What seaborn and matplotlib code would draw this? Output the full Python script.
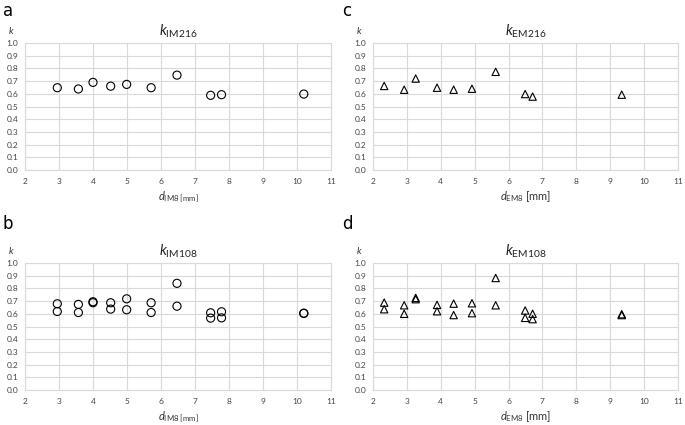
import matplotlib
matplotlib.use("Agg")
import matplotlib.pyplot as plt
import seaborn as sns
import pandas as pd

sns.set_theme(style="white")
plt.rcParams['font.family'] = ['Lato', 'DejaVu Sans']
plt.rcParams['mathtext.fontset'] = 'custom'
plt.rcParams['mathtext.rm'] = 'Lato'
plt.rcParams['mathtext.it'] = 'Lato:italic'

# Panel a: k_IM216 vs d_IM8
d_im8 = [2.95, 3.57, 4.0, 4.52, 4.99, 5.71, 6.47, 7.46, 7.78, 10.2]
k_im216 = [0.648, 0.638, 0.69, 0.66, 0.674, 0.648, 0.747, 0.588, 0.593, 0.598]

# Panel b: k_IM108 (two series per d)
k_im108_a = [0.679, 0.674, 0.695, 0.687, 0.718, 0.687, 0.84, 0.608, 0.616, 0.603]
k_im108_b = [0.618, 0.61, 0.687, 0.637, 0.632, 0.61, 0.66, 0.566, 0.568, 0.605]

# Panel c: k_EM216 vs d_EM8
d_em8 = [2.33, 2.92, 3.26, 3.89, 4.38, 4.92, 5.62, 6.49, 6.71, 9.34]
k_em216 = [0.662, 0.632, 0.72, 0.648, 0.632, 0.64, 0.773, 0.598, 0.578, 0.593]

# Panel d: k_EM108 (two series per d)
k_em108_a = [0.688, 0.667, 0.725, 0.67, 0.68, 0.683, 0.882, 0.626, 0.60, 0.597]
k_em108_b = [0.636, 0.60, 0.715, 0.62, 0.59, 0.605, 0.667, 0.568, 0.558, 0.59]

x_ticks = list(range(2, 12))
y_ticks = [round(i * 0.1, 1) for i in range(11)]

fig = plt.figure(figsize=(6.85, 4.25), dpi=100)

W, H = 685, 425
def box(l, r, t, b):
    return [l / W, 1 - b / H, (r - l) / W, (b - t) / H]

panels = [
    dict(pos=box(25, 331, 43, 170), letter='a', lxy=(3, 2), x=d_im8, ys=[k_im216], marker='o',
         title=r'$\mathit{k}_{\mathrm{IM216}}$', xlabel=r'$\mathit{d}_{\mathrm{IM8\ [mm]}}$'),
    dict(pos=box(25, 331, 263, 390), letter='b', lxy=(3, 215), x=d_im8, ys=[k_im108_a, k_im108_b], marker='o',
         title=r'$\mathit{k}_{\mathrm{IM108}}$', xlabel=r'$\mathit{d}_{\mathrm{IM8\ [mm]}}$'),
    dict(pos=box(373, 678, 43, 170), letter='c', lxy=(342, 2), x=d_em8, ys=[k_em216], marker='^',
         title=r'$\mathit{k}_{\mathrm{EM216}}$', xlabel=r'$\mathit{d}_{\mathrm{EM8}}$ [mm]'),
    dict(pos=box(373, 678, 263, 390), letter='d', lxy=(342, 215), x=d_em8, ys=[k_em108_a, k_em108_b], marker='^',
         title=r'$\mathit{k}_{\mathrm{EM108}}$', xlabel=r'$\mathit{d}_{\mathrm{EM8}}$ [mm]'),
]

for p in panels:
    ax = fig.add_axes(p['pos'])
    rows = []
    for ys in p['ys']:
        for xv, yv in zip(p['x'], ys):
            rows.append({'d': xv, 'k': yv})
    df = pd.DataFrame(rows)
    size = 34 if p['marker'] == 'o' else 28
    sns.scatterplot(data=df, x='d', y='k', ax=ax, marker=p['marker'], s=size,
                    facecolor='none', edgecolor='black', linewidth=0.8, zorder=3)
    ax.set_xlim(2, 11)
    ax.set_ylim(0, 1.0)
    ax.set_xticks(x_ticks)
    ax.set_yticks(y_ticks)
    ax.set_yticklabels([f"{v:.1f}" for v in y_ticks])
    ax.tick_params(axis='both', labelsize=6, length=0, colors='#444444')
    ax.tick_params(axis='x', pad=6)
    ax.tick_params(axis='y', pad=5)
    ax.grid(True, color='#d9d9d9', linewidth=0.8)
    ax.set_axisbelow(True)
    for s in ax.spines.values():
        s.set_color('#d9d9d9')
        s.set_linewidth(0.8)
    ax.set_xlabel(p['xlabel'], fontsize=8, color='#333333', labelpad=3)
    ax.set_ylabel('')
    ax.set_title(p['title'], fontsize=10.5, color='#222222', pad=5)
    ax.text(-0.045, 1.1, r'$\mathit{k}$', transform=ax.transAxes, fontsize=7,
            ha='center', va='center', color='#333333')
    lx, ly = p['lxy']
    fig.text(lx / W, 1 - ly / H, p['letter'], fontsize=12, ha='left', va='top',
             color='black', family='DejaVu Sans')

fig.savefig('out.png', dpi=100)
